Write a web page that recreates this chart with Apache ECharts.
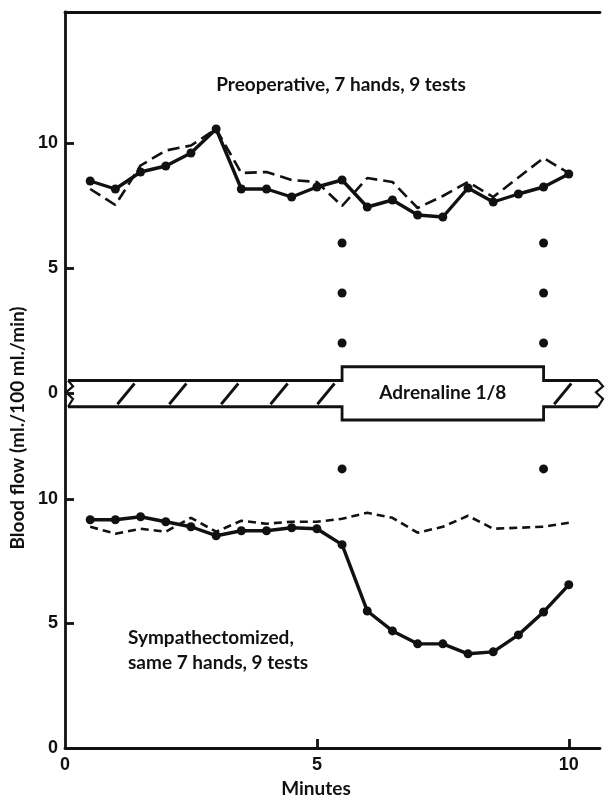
<!DOCTYPE html>
<html>
<head>
<meta charset="utf-8">
<script src="https://cdn.jsdelivr.net/npm/echarts@6/dist/echarts.min.js"></script>
<style>
  html, body { margin: 0; padding: 0; background: #fff; }
  #main { width: 608px; height: 801px; }
</style>
</head>
<body>
<div id="main"></div>
<script>
// sampling times (minutes)
const minutes = [0.5, 1, 1.5, 2, 2.5, 3, 3.5, 4, 4.5, 5, 5.5, 6, 6.5, 7, 7.5, 8, 8.5, 9, 9.5, 10]

// upper panel: preoperative
const preSolid = [8.48, 8.16, 8.84, 9.08, 9.6, 10.56, 8.16, 8.16, 7.84, 8.24, 8.52, 7.44, 7.72, 7.12, 7.04, 8.2, 7.64, 7.96, 8.24, 8.76]
const preDashed = [8.16, 7.52, 9.1, 9.7, 9.9, 10.56, 8.8, 8.84, 8.52, 8.44, 7.48, 8.6, 8.44, 7.4, 7.88, 8.44, 7.84, 8.62, 9.4, 8.8]

// lower panel: sympathectomized
const symSolid = [9.16, 9.16, 9.28, 9.08, 8.88, 8.52, 8.72, 8.72, 8.84, 8.8, 8.16, 5.5, 4.7, 4.18, 4.18, 3.78, 3.86, 4.54, 5.46, 6.55]
const symDashed = [8.88, 8.6, 8.8, 8.68, 9.24, 8.68, 9.12, 9.0, 9.08, 9.08, 9.2, 9.44, 9.24, 8.64, 8.88, 9.32, 8.8, 8.84, 8.88, 9.04]

// dotted markers at start / end of adrenaline
const markerX = [5.5, 9.5]
const markerUpper = [6.0, 4.0, 2.0]
const markerLower = [11.2]

// adrenaline band (upper panel units)
const bandRange = [0.06, 10.58]
const bandLevels = [0.5, -0.55]
const boxRange = [5.5, 9.5]
const boxLevels = [1.05, -1.08]
const hatchAt = [1.21, 2.24, 3.27, 4.25, 5.18, 9.88]

const upperTicks = [0, 5, 10]
const lowerTicks = [0, 5, 10]
const xTicks = [5, 10]
const xLabels = [0, 5, 10]

const INK = '#111'
const FONT = 'Lato, "Open Sans", sans-serif'
const TEXT = 'bold 19px ' + FONT

function pairs(ys) {
  return minutes.map((m, i) => [m, ys[i]])
}

function markers(levels) {
  const out = []
  markerX.forEach(x => levels.forEach(y => out.push([x, y])))
  return out
}

function renderBand(params, api) {
  const c = (x, y) => api.coord([x, y])
  const [x0, x1] = bandRange
  const [top, bot] = bandLevels
  const [b0, b1] = boxRange
  const [bt, bb] = boxLevels
  const children = []
  const lineStyle = { stroke: INK, lineWidth: 2.8, fill: null }
  children.push({
    type: 'polyline',
    shape: { points: [c(x0, top), c(b0, top), c(b0, bt), c(b1, bt), c(b1, top), c(x1, top)] },
    style: lineStyle
  })
  children.push({
    type: 'polyline',
    shape: { points: [c(x0, bot), c(b0, bot), c(b0, bb), c(b1, bb), c(b1, bot), c(x1, bot)] },
    style: lineStyle
  })
  // torn ends
  const zig = [[0, 0], [5, 0.22], [-2, 0.45], [5, 0.7], [0, 1]]
  ;[x0, x1].forEach(x => {
    const p0 = c(x, top)
    const p1 = c(x, bot)
    const h = p1[1] - p0[1]
    children.push({
      type: 'polyline',
      shape: { points: zig.map(z => [p0[0] + z[0], p0[1] + z[1] * h]) },
      style: { stroke: INK, lineWidth: 2.2, fill: null }
    })
  })
  hatchAt.forEach(h => {
    const a = c(h - 0.17, -0.45)
    const b = c(h + 0.17, 0.38)
    children.push({
      type: 'line',
      shape: { x1: a[0], y1: a[1], x2: b[0], y2: b[1] },
      style: { stroke: INK, lineWidth: 2.8 }
    })
  })
  const t = c((b0 + b1) / 2, 0)
  children.push({
    type: 'text',
    x: t[0], y: t[1],
    style: { text: 'Adrenaline 1/8', fill: INK, font: TEXT, align: 'center', verticalAlign: 'middle' }
  })
  return { type: 'group', children: children }
}

const chart = echarts.init(document.getElementById('main'))

const axisLine = { show: true, onZero: false, lineStyle: { color: INK, width: 2.8 } }
const labelStyle = { color: INK, fontSize: 18, fontFamily: 'Liberation Sans, sans-serif', fontWeight: 'bold' }

chart.setOption({
  animation: false,
  backgroundColor: '#fff',
  grid: [
    { left: 65, right: 8, top: 12, height: 436 },
    { left: 65, right: 8, top: 449, bottom: 53 }
  ],
  xAxis: [
    {
      type: 'value', gridIndex: 0, min: 0, max: 10.62, position: 'top',
      axisLine: axisLine, axisTick: { show: false }, axisLabel: { show: false }, splitLine: { show: false }
    },
    {
      type: 'value', gridIndex: 1, min: 0, max: 10.62,
      axisLine: axisLine,
      axisTick: { inside: true, length: 9, customValues: xTicks, lineStyle: { color: INK, width: 2.8 } },
      axisLabel: { customValues: xLabels, margin: 8, ...labelStyle },
      splitLine: { show: false }
    }
  ],
  yAxis: [
    {
      type: 'value', gridIndex: 0, min: -2.2, max: 15.24,
      axisLine: axisLine,
      axisTick: { inside: true, length: 9, customValues: upperTicks, lineStyle: { color: INK, width: 2.8 } },
      axisLabel: { customValues: upperTicks, margin: 7, ...labelStyle },
      splitLine: { show: false }
    },
    {
      type: 'value', gridIndex: 1, min: 0, max: 12,
      axisLine: axisLine,
      axisTick: { inside: true, length: 9, customValues: lowerTicks, lineStyle: { color: INK, width: 2.8 } },
      axisLabel: { customValues: lowerTicks, margin: 7, ...labelStyle },
      splitLine: { show: false }
    }
  ],
  graphic: [
    {
      type: 'text', x: 341, y: 85,
      style: { text: 'Preoperative, 7 hands, 9 tests', fill: INK, font: TEXT, align: 'center', verticalAlign: 'middle' }
    },
    {
      type: 'text', x: 128, y: 650,
      style: { text: 'Sympathectomized,\nsame 7 hands, 9 tests', fill: INK, font: TEXT, lineHeight: 25, align: 'left', verticalAlign: 'middle' }
    },
    {
      type: 'text', x: 18, y: 428, rotation: Math.PI / 2,
      style: { text: 'Blood flow (ml./100 ml./min)', fill: INK, font: TEXT, align: 'center', verticalAlign: 'middle' }
    },
    {
      type: 'text', x: 316, y: 789,
      style: { text: 'Minutes', fill: INK, font: TEXT, align: 'center', verticalAlign: 'middle' }
    }
  ],
  series: [
    {
      type: 'custom', xAxisIndex: 0, yAxisIndex: 0, clip: false,
      data: [[0, 0]], renderItem: renderBand, silent: true
    },
    {
      type: 'line', xAxisIndex: 0, yAxisIndex: 0, data: pairs(preDashed),
      symbol: 'none', lineStyle: { color: INK, width: 2.6, type: [12, 6] }
    },
    {
      type: 'line', xAxisIndex: 0, yAxisIndex: 0, data: pairs(preSolid),
      symbol: 'circle', symbolSize: 9, itemStyle: { color: INK },
      lineStyle: { color: INK, width: 3.4 }
    },
    {
      type: 'line', xAxisIndex: 1, yAxisIndex: 1, data: pairs(symDashed),
      symbol: 'none', lineStyle: { color: INK, width: 2.6, type: [8, 5] }
    },
    {
      type: 'line', xAxisIndex: 1, yAxisIndex: 1, data: pairs(symSolid),
      symbol: 'circle', symbolSize: 9, itemStyle: { color: INK },
      lineStyle: { color: INK, width: 3.4 }
    },
    {
      type: 'scatter', xAxisIndex: 0, yAxisIndex: 0, data: markers(markerUpper),
      symbolSize: 9, itemStyle: { color: INK, opacity: 1 }
    },
    {
      type: 'scatter', xAxisIndex: 1, yAxisIndex: 1, data: markers(markerLower),
      symbolSize: 9, itemStyle: { color: INK, opacity: 1 }
    }
  ]
})
</script>
</body>
</html>
